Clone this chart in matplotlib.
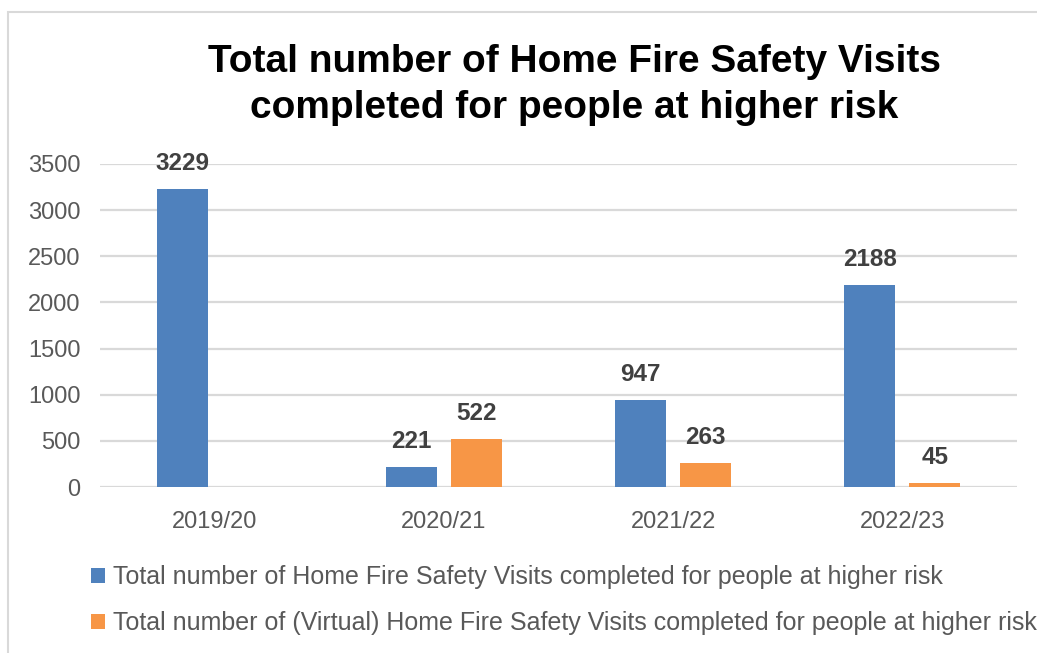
import matplotlib
matplotlib.use("Agg")
import matplotlib.pyplot as plt
from matplotlib.patches import Rectangle
import numpy as np

plt.rcParams['font.family'] = ['Liberation Sans', 'DejaVu Sans']

years = ["2019/20", "2020/21", "2021/22", "2022/23"]
in_person = [3229, 221, 947, 2188]
virtual = [None, 522, 263, 45]
series_names = [
    "Total number of Home Fire Safety Visits completed for people at higher risk",
    "Total number of (Virtual) Home Fire Safety Visits completed for people at higher risk",
]
title = "Total number of Home Fire Safety Visits\ncompleted for people at higher risk"
yticks = [0, 500, 1000, 1500, 2000, 2500, 3000, 3500]

BLUE = "#4F81BD"
ORANGE = "#F79646"
GRID = "#D9D9D9"
TICK = "#595959"
LABEL = "#404040"

W, H = 1037, 653
fig = plt.figure(figsize=(W / 100, H / 100), dpi=100)

# outer chart border (runs past the right and bottom edges)
fig.patches.append(Rectangle((8 / W, -0.05), 1.1, 1 - 12 / H + 0.05,
                             transform=fig.transFigure, fill=False,
                             edgecolor=GRID, linewidth=1.5, clip_on=False))

ax = fig.add_axes([100 / W, 1 - 487 / H, 917 / W, (487 - 164) / H])

x = np.arange(len(years))
bw = 0.2225
off = 0.1418

for i, v in enumerate(in_person):
    if v is None:
        continue
    ax.bar(x[i] - off, v, bw, color=BLUE, zorder=3,
           label=series_names[0] if i == 0 else None)
    ax.annotate(f"{v}", (x[i] - off, v), xytext=(0, 10), textcoords="offset points",
                ha="center", va="bottom", fontsize=17.5, fontweight="bold", color=LABEL)
first = True
for i, v in enumerate(virtual):
    if v is None:
        continue
    ax.bar(x[i] + off, v, bw, color=ORANGE, zorder=3,
           label=series_names[1] if first else None)
    first = False
    ax.annotate(f"{v}", (x[i] + off, v), xytext=(0, 10), textcoords="offset points",
                ha="center", va="bottom", fontsize=17.5, fontweight="bold", color=LABEL)

ax.set_xlim(-0.5, len(years) - 0.5)
ax.set_ylim(0, 3500)
ax.set_yticks(yticks)
ax.set_xticks(x)
ax.set_xticklabels(years)
ax.tick_params(axis="both", length=0, labelsize=17, labelcolor=TICK)
ax.tick_params(axis="y", pad=14)
ax.tick_params(axis="x", pad=17)
ax.grid(axis="y", color=GRID, linewidth=1.6, zorder=0)
for s in ax.spines.values():
    s.set_visible(False)

fig.text(574 / W, 1 - 44 / H, title, ha="center", va="top", fontsize=28,
         fontweight="bold", color="black", linespacing=1.35)

handles, labels = ax.get_legend_handles_labels()
leg = fig.legend(handles, labels, loc="upper left",
                 bbox_to_anchor=(91 / W, 1 - 565 / H), frameon=False,
                 fontsize=18, handlelength=0.56, handleheight=0.56,
                 handletextpad=0.32, labelspacing=0.88, borderaxespad=0,
                 borderpad=0)
for t in leg.get_texts():
    t.set_color(TICK)

fig.savefig("out.png", dpi=100)
